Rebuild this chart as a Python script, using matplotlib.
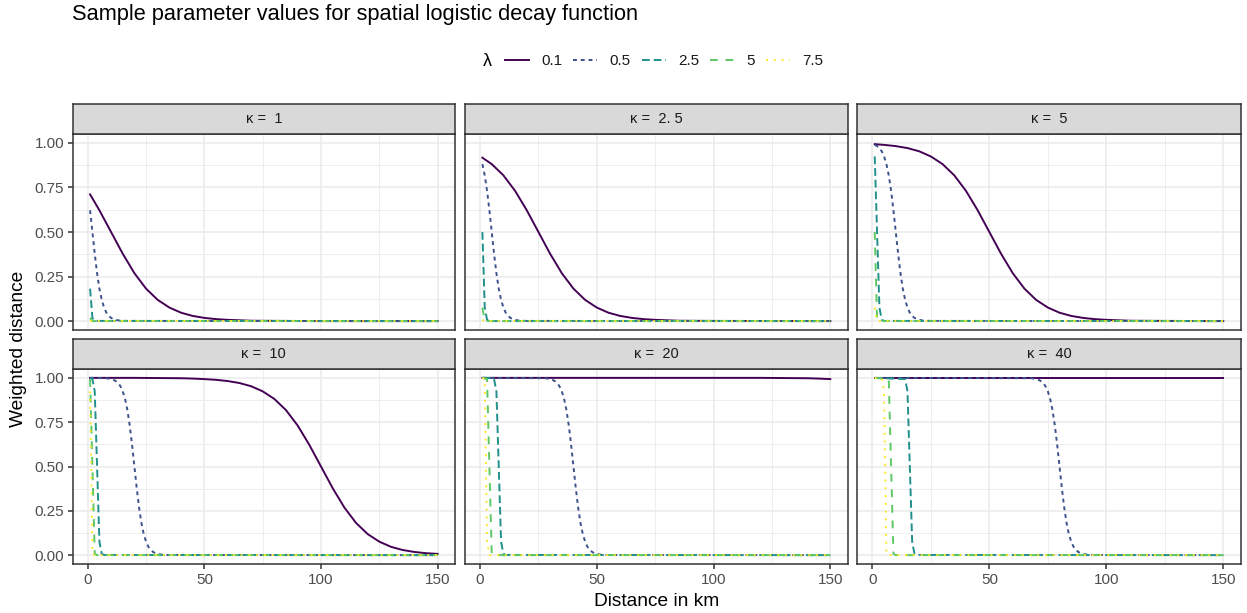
import matplotlib
matplotlib.use("Agg")
import matplotlib.pyplot as plt
from matplotlib.lines import Line2D

plt.rcParams["font.family"] = ["Liberation Sans", "DejaVu Sans"]

# lambda levels, colours (viridis) and ggplot default linetypes
lambdas = ["0.1", "0.5", "2.5", "5", "7.5"]
colors = ["#440154", "#3B528B", "#21908C", "#5DC863", "#FDE725"]
dashes = ["-", (0, (2, 2)), (0, (4, 2)), (0, (4, 4)), (0, (1, 3))]

kappa_labels = ["κ =  1", "κ =  2. 5", "κ =  5", "κ =  10", "κ =  20", "κ =  40"]

# ---- kappa = 1
k1_x01 = [1, 5, 10, 15, 20, 25, 30, 35, 40, 45, 50, 55, 60, 70, 85, 100, 150]
k1_y01 = [0.711, 0.622, 0.500, 0.378, 0.269, 0.182, 0.119, 0.076, 0.047, 0.029, 0.018, 0.011, 0.007, 0.002, 0.001, 0.000, 0.000]
k1_x05 = [1, 2, 3, 4, 5, 6, 7, 8, 9, 10, 11, 12, 14, 17, 150]
k1_y05 = [0.622, 0.500, 0.378, 0.269, 0.182, 0.119, 0.076, 0.047, 0.029, 0.018, 0.011, 0.007, 0.002, 0.001, 0.000]
k1_x25 = [1, 2, 3, 150]
k1_y25 = [0.182, 0.018, 0.001, 0.000]
k1_x5 = [1, 2, 150]
k1_y5 = [0.018, 0.000, 0.000]
k1_x75 = [1, 150]
k1_y75 = [0.001, 0.000]

# ---- kappa = 2.5
k2_x01 = [1, 5, 10, 15, 20, 25, 30, 35, 40, 45, 50, 55, 60, 65, 70, 75, 85, 100, 150]
k2_y01 = [0.917, 0.881, 0.818, 0.731, 0.622, 0.500, 0.378, 0.269, 0.182, 0.119, 0.076, 0.047, 0.029, 0.018, 0.011, 0.007, 0.002, 0.001, 0.000]
k2_x05 = [1, 2, 3, 4, 5, 6, 7, 8, 9, 10, 11, 12, 13, 14, 15, 17, 20, 150]
k2_y05 = [0.881, 0.818, 0.731, 0.622, 0.500, 0.378, 0.269, 0.182, 0.119, 0.076, 0.047, 0.029, 0.018, 0.011, 0.007, 0.002, 0.001, 0.000]
k2_x25 = [1, 2, 3, 4, 150]
k2_y25 = [0.500, 0.076, 0.007, 0.000, 0.000]
k2_x5 = [1, 2, 3, 150]
k2_y5 = [0.076, 0.001, 0.000, 0.000]
k2_x75 = [1, 2, 150]
k2_y75 = [0.007, 0.000, 0.000]

# ---- kappa = 5
k3_x01 = [1, 5, 10, 15, 20, 25, 30, 35, 40, 45, 50, 55, 60, 65, 70, 75, 80, 85, 90, 95, 100, 110, 125, 150]
k3_y01 = [0.993, 0.989, 0.982, 0.971, 0.953, 0.924, 0.881, 0.818, 0.731, 0.622, 0.500, 0.378, 0.269, 0.182, 0.119, 0.076, 0.047, 0.029, 0.018, 0.011, 0.007, 0.002, 0.001, 0.000]
k3_x05 = [1, 2, 3, 4, 5, 6, 7, 8, 9, 10, 11, 12, 13, 14, 15, 16, 17, 18, 19, 20, 22, 25, 150]
k3_y05 = [0.989, 0.982, 0.971, 0.953, 0.924, 0.881, 0.818, 0.731, 0.622, 0.500, 0.378, 0.269, 0.182, 0.119, 0.076, 0.047, 0.029, 0.018, 0.011, 0.007, 0.002, 0.001, 0.000]
k3_x25 = [1, 2, 3, 4, 5, 150]
k3_y25 = [0.924, 0.500, 0.076, 0.007, 0.001, 0.000]
k3_x5 = [1, 2, 3, 150]
k3_y5 = [0.500, 0.007, 0.000, 0.000]
k3_x75 = [1, 2, 150]
k3_y75 = [0.076, 0.000, 0.000]

# ---- kappa = 10
k4_x01 = [1, 20, 30, 40, 45, 50, 55, 60, 65, 70, 75, 80, 85, 90, 95, 100, 105, 110, 115, 120, 125, 130, 135, 140, 145, 150]
k4_y01 = [1.000, 1.000, 0.999, 0.998, 0.996, 0.993, 0.989, 0.982, 0.971, 0.953, 0.924, 0.881, 0.818, 0.731, 0.622, 0.500, 0.378, 0.269, 0.182, 0.119, 0.076, 0.047, 0.029, 0.018, 0.011, 0.007]
k4_x05 = [1, 8, 10, 11, 12, 13, 14, 15, 16, 17, 18, 19, 20, 21, 22, 23, 24, 25, 26, 27, 28, 29, 30, 32, 35, 150]
k4_y05 = [1.000, 0.998, 0.993, 0.989, 0.982, 0.971, 0.953, 0.924, 0.881, 0.818, 0.731, 0.622, 0.500, 0.378, 0.269, 0.182, 0.119, 0.076, 0.047, 0.029, 0.018, 0.011, 0.007, 0.002, 0.001, 0.000]
k4_x25 = [1, 2, 3, 4, 5, 6, 7, 150]
k4_y25 = [0.999, 0.993, 0.924, 0.500, 0.076, 0.007, 0.001, 0.000]
k4_x5 = [1, 2, 3, 4, 150]
k4_y5 = [0.993, 0.500, 0.007, 0.000, 0.000]
k4_x75 = [1, 2, 3, 150]
k4_y75 = [0.924, 0.007, 0.000, 0.000]

# ---- kappa = 20
k5_x01 = [1, 100, 110, 120, 130, 140, 145, 150]
k5_y01 = [1.000, 1.000, 1.000, 1.000, 0.999, 0.998, 0.996, 0.993]
k5_x05 = [1, 28, 30, 31, 32, 33, 34, 35, 36, 37, 38, 39, 40, 41, 42, 43, 44, 45, 46, 47, 48, 49, 50, 52, 55, 150]
k5_y05 = [1.000, 0.998, 0.993, 0.989, 0.982, 0.971, 0.953, 0.924, 0.881, 0.818, 0.731, 0.622, 0.500, 0.378, 0.269, 0.182, 0.119, 0.076, 0.047, 0.029, 0.018, 0.011, 0.007, 0.002, 0.001, 0.000]
k5_x25 = [1, 5, 6, 7, 8, 9, 10, 11, 150]
k5_y25 = [1.000, 0.999, 0.993, 0.924, 0.500, 0.076, 0.007, 0.001, 0.000]
k5_x5 = [1, 3, 4, 5, 6, 150]
k5_y5 = [1.000, 0.993, 0.500, 0.007, 0.000, 0.000]
k5_x75 = [1, 2, 3, 4, 150]
k5_y75 = [1.000, 0.993, 0.076, 0.000, 0.000]

# ---- kappa = 40
k6_x01 = [1, 75, 150]
k6_y01 = [1.000, 1.000, 1.000]
k6_x05 = [1, 68, 70, 71, 72, 73, 74, 75, 76, 77, 78, 79, 80, 81, 82, 83, 84, 85, 86, 87, 88, 89, 90, 92, 95, 150]
k6_y05 = [1.000, 0.998, 0.993, 0.989, 0.982, 0.971, 0.953, 0.924, 0.881, 0.818, 0.731, 0.622, 0.500, 0.378, 0.269, 0.182, 0.119, 0.076, 0.047, 0.029, 0.018, 0.011, 0.007, 0.002, 0.001, 0.000]
k6_x25 = [1, 14, 15, 16, 17, 18, 19, 150]
k6_y25 = [1.000, 0.993, 0.924, 0.500, 0.076, 0.007, 0.001, 0.000]
k6_x5 = [1, 7, 8, 9, 10, 150]
k6_y5 = [1.000, 0.993, 0.500, 0.007, 0.000, 0.000]
k6_x75 = [1, 4, 5, 6, 7, 150]
k6_y75 = [1.000, 1.000, 0.924, 0.007, 0.000, 0.000]

panels = [
    [(k1_x01, k1_y01), (k1_x05, k1_y05), (k1_x25, k1_y25), (k1_x5, k1_y5), (k1_x75, k1_y75)],
    [(k2_x01, k2_y01), (k2_x05, k2_y05), (k2_x25, k2_y25), (k2_x5, k2_y5), (k2_x75, k2_y75)],
    [(k3_x01, k3_y01), (k3_x05, k3_y05), (k3_x25, k3_y25), (k3_x5, k3_y5), (k3_x75, k3_y75)],
    [(k4_x01, k4_y01), (k4_x05, k4_y05), (k4_x25, k4_y25), (k4_x5, k4_y5), (k4_x75, k4_y75)],
    [(k5_x01, k5_y01), (k5_x05, k5_y05), (k5_x25, k5_y25), (k5_x5, k5_y5), (k5_x75, k5_y75)],
    [(k6_x01, k6_y01), (k6_x05, k6_y05), (k6_x25, k6_y25), (k6_x5, k6_y5), (k6_x75, k6_y75)],
]

W, H = 1247, 613
fig = plt.figure(figsize=(W / 100, H / 100), dpi=100)


def box(x0, y0, x1, y1):
    return [x0 / W, 1 - y1 / H, (x1 - x0) / W, (y1 - y0) / H]


cols = [(72.7, 455.0), (465.0, 847.7), (857.3, 1240.7)]
rows = [(104.0, 134.0, 330.0), (339.0, 369.0, 564.0)]  # strip top, panel top, panel bottom

grey20 = "#333333"
lw = 1.4

for i, curves in enumerate(panels):
    r, c = divmod(i, 3)
    x0, x1 = cols[c]
    st, pt, pb = rows[r]

    ax = fig.add_axes(box(x0, pt, x1, pb))
    ax.set_xlim(-6.45, 157.45)
    ax.set_ylim(-0.05, 1.05)
    ax.set_xticks([0, 50, 100, 150])
    ax.set_xticks([25, 75, 125], minor=True)
    ax.set_yticks([0, 0.25, 0.5, 0.75, 1.0])
    ax.set_yticks([0.125, 0.375, 0.625, 0.875], minor=True)
    ax.grid(True, which="major", color="#EBEBEB", linewidth=1.1)
    ax.grid(True, which="minor", color="#EBEBEB", linewidth=0.6)
    ax.set_axisbelow(True)
    for s in ax.spines.values():
        s.set_color(grey20)
        s.set_linewidth(1.1)
    ax.tick_params(which="major", length=3.7, width=1.1, color=grey20,
                   labelsize=11, labelcolor="#4D4D4D", pad=2.5)
    ax.tick_params(which="minor", length=0)
    if c == 0:
        ax.set_yticklabels(["0.00", "0.25", "0.50", "0.75", "1.00"])
    else:
        ax.tick_params(axis="y", which="major", length=0, labelleft=False)
    if r == 0:
        ax.tick_params(axis="x", which="major", length=0, labelbottom=False)

    for (xs, ys), col, ls in zip(curves, colors, dashes):
        ax.plot(xs, ys, color=col, linestyle=ls, linewidth=lw)

    sax = fig.add_axes(box(x0, st, x1, pt))
    sax.set_facecolor("#D9D9D9")
    sax.set_xticks([])
    sax.set_yticks([])
    for s in sax.spines.values():
        s.set_color(grey20)
        s.set_linewidth(1.1)
    sax.text(0.5, 0.5, kappa_labels[i], ha="center", va="center",
             fontsize=10.5, color="#1A1A1A", transform=sax.transAxes)

fig.text(72 / W, 1 - 20 / H, "Sample parameter values for spatial logistic decay function",
         ha="left", va="baseline", fontsize=15.7, color="black")

fig.text(19 / W, 1 - 349 / H, "Weighted distance", rotation=90, ha="center",
         va="center", fontsize=13.8)
fig.text(656.7 / W, 1 - 601 / H, "Distance in km", ha="center", va="center", fontsize=13.8)

# legend
fig.text(483 / W, 1 - 61 / H, "λ", ha="left", va="center", fontsize=13)
handles = [Line2D([], [], color=col, linestyle=ls, linewidth=lw) for col, ls in zip(colors, dashes)]
fig.legend(handles, lambdas, loc="center left", bbox_to_anchor=(505 / W, 1 - 61 / H),
           ncol=5, frameon=False, fontsize=11, handlelength=1.57, handletextpad=0.8,
           columnspacing=0.72, labelcolor="#1A1A1A", borderpad=0, borderaxespad=0)

fig.savefig("out.png", dpi=100)
